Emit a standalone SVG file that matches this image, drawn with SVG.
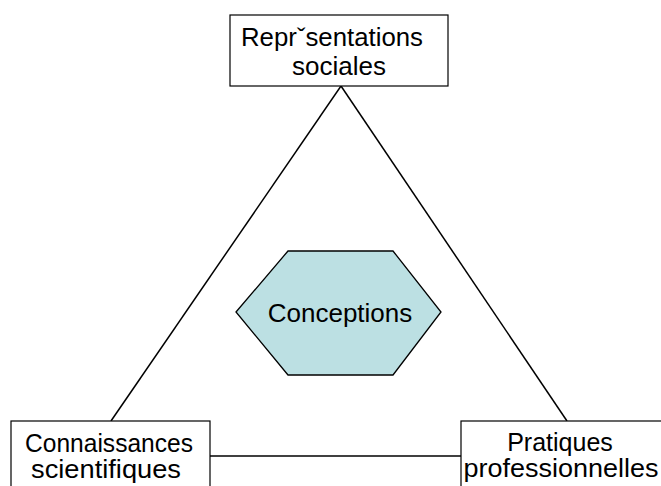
<svg xmlns="http://www.w3.org/2000/svg" width="661" height="486" viewBox="0 0 661 486">
<style>
.box{fill:#fff;stroke:#000;stroke-width:1.2}
.lbl{font-family:"Liberation Sans",Arial,sans-serif;font-size:26px;fill:#000;text-anchor:middle}
.sm{font-size:25px}
.edge{stroke:#000;stroke-width:1.5;fill:none}
</style>
<rect width="661" height="486" fill="#fff"/>
<g id="connectors">
<line class="edge" x1="341" y1="86" x2="111" y2="421"/>
<line class="edge" x1="341" y1="86" x2="567" y2="421"/>
<line class="edge" x1="210" y1="456" x2="461" y2="456"/>
</g>
<g id="representations">
<rect class="box" x="230" y="15" width="218" height="71"/>
<text class="lbl" x="332" y="46" textLength="182" lengthAdjust="spacingAndGlyphs">Reprˇsentations</text>
<text class="lbl" x="339" y="75">sociales</text>
</g>
<g id="connaissances">
<rect class="box" x="11" y="421" width="199" height="70"/>
<text class="lbl sm" x="109" y="452" textLength="168" lengthAdjust="spacingAndGlyphs">Connaissances</text>
<text class="lbl sm" x="106" y="478" textLength="150" lengthAdjust="spacingAndGlyphs">scientifiques</text>
</g>
<g id="pratiques">
<rect class="box" x="461" y="421" width="202" height="70"/>
<text class="lbl sm" x="560" y="451">Pratiques</text>
<text class="lbl sm" x="561" y="477" textLength="195" lengthAdjust="spacingAndGlyphs">professionnelles</text>
</g>
<g id="conceptions">
<polygon points="236,312 288,251 393,251 441,312 393,375 288,375" fill="#BCE0E3" stroke="#000" stroke-width="1.3"/>
<text class="lbl" x="340" y="322">Conceptions</text>
</g>
</svg>
